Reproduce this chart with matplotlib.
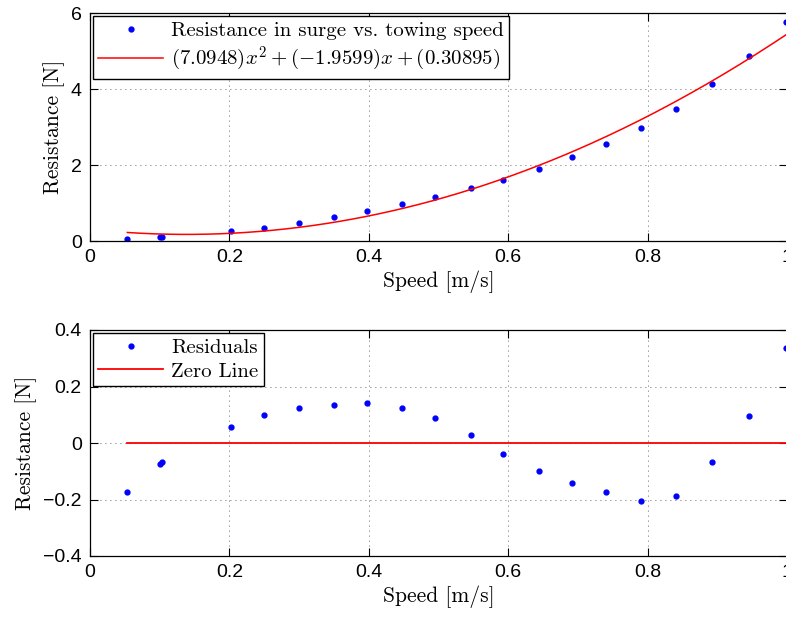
import numpy as np
import matplotlib
matplotlib.use("Agg")
import matplotlib.pyplot as plt

# ---- data ----
speed = [0.0536, 0.1009, 0.1040, 0.2024, 0.2497, 0.3001, 0.3494, 0.3979, 0.4472, 0.4950,
         0.5467, 0.5927, 0.6438, 0.6917, 0.7402, 0.7901, 0.8405, 0.8917, 0.9454, 0.9986]
resistance = [0.048, 0.108, 0.110, 0.262, 0.354, 0.484, 0.624, 0.794, 0.976, 1.165,
              1.388, 1.598, 1.886, 2.200, 2.556, 2.962, 3.484, 4.127, 4.880, 5.770]
residuals = [-0.174, -0.073, -0.069, 0.055, 0.098, 0.125, 0.135, 0.141, 0.124, 0.088,
             0.029, -0.039, -0.098, -0.142, -0.174, -0.204, -0.187, -0.067, 0.095, 0.335]
coeffs = [7.0948, -1.9599, 0.30895]

xticks = [0, 0.2, 0.4, 0.6, 0.8, 1]
xticklabels = ["0", "0.2", "0.4", "0.6", "0.8", "1"]
yticks_top = [0, 2, 4, 6]
yticks_bot = [-0.4, -0.2, 0, 0.2, 0.4]
yticklabels_bot = ["\u22120.4", "\u22120.2", "0", "0.2", "0.4"]

plt.rcParams['mathtext.fontset'] = 'cm'
plt.rcParams['axes.unicode_minus'] = False

fig = plt.figure(figsize=(7.86, 6.2), dpi=100)
W, H = 786, 620
def pos(l, r, t, b):
    return [l / W, 1 - b / H, (r - l) / W, (b - t) / H]

ax1 = fig.add_axes(pos(90, 787, 13, 241))
ax2 = fig.add_axes(pos(90, 787, 330, 556))

label_font = dict(family='cmr10', size=15.5)
tick_font = 'Liberation Sans'

xfit = np.linspace(speed[0], speed[-1], 200)
yfit = np.polyval(coeffs, xfit)

ax1.plot(speed, resistance, '.', color='#0000ff', markersize=7,
         label='Resistance in surge vs. towing speed')
ax1.plot(xfit, yfit, '-', color='#ff0000', lw=1.1,
         label=r'$(7.0948)x^2+(-1.9599)x+(0.30895)$')
ax1.set_ylim(0, 6)
ax1.set_yticks(yticks_top)
ax1.set_yticklabels([str(v) for v in yticks_top])

ax2.plot(speed, residuals, '.', color='#0000ff', markersize=7, label='Residuals')
ax2.plot([speed[0], 1.0], [0, 0], '-', color='#ff0000', lw=1.3, label='Zero Line')
ax2.set_ylim(-0.4, 0.4)
ax2.set_yticks(yticks_bot)
ax2.set_yticklabels(yticklabels_bot)

for ax in (ax1, ax2):
    ax.set_xlim(0, 1)
    ax.set_xticks(xticks)
    ax.set_xticklabels(xticklabels)
    ax.grid(True, linestyle=(0, (1, 5)), color='black', linewidth=0.6, alpha=0.8)
    ax.tick_params(direction='in', length=6, width=0.8, top=True, right=True,
                   labelsize=14, pad=6)
    for lab in ax.get_xticklabels() + ax.get_yticklabels():
        lab.set_fontfamily(tick_font)
    for s in ax.spines.values():
        s.set_linewidth(0.9)
    ax.set_xlabel('Speed [m/s]', fontdict=label_font, labelpad=3)
    ax.set_ylabel('Resistance [N]', fontdict=label_font, labelpad=4)
    leg = ax.legend(loc='upper left', prop={'family': 'cmr10', 'size': 15},
                    fancybox=False, edgecolor='black', framealpha=1,
                    handlelength=3.1, borderaxespad=0.15, borderpad=0.25,
                    labelspacing=0.25, handletextpad=0.4)
    leg.get_frame().set_linewidth(1.0)

fig.savefig('out.png', dpi=100)
